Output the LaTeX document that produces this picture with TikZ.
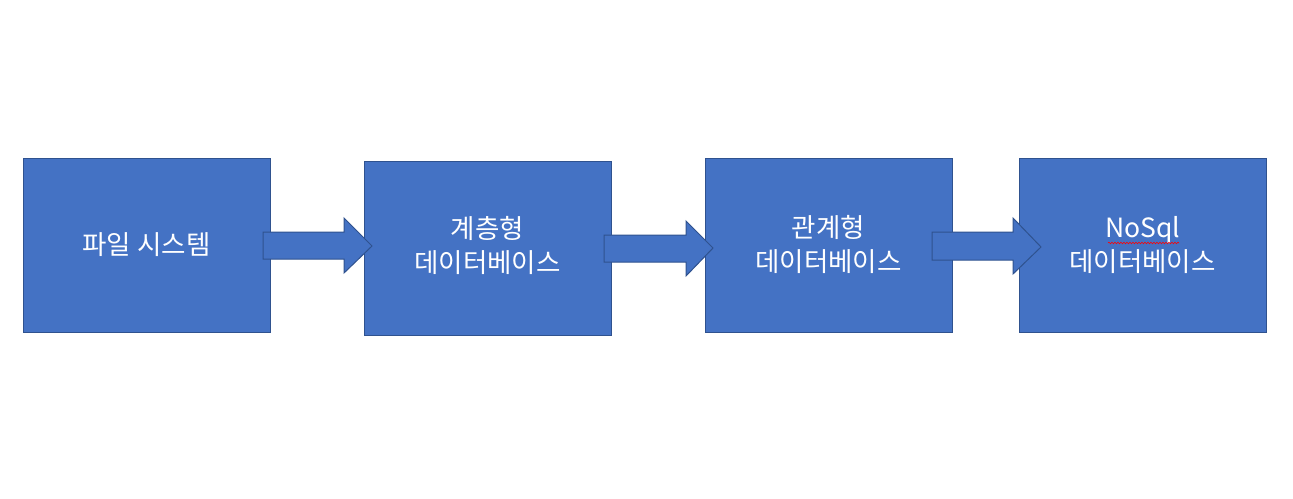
\documentclass[tikz,border=0pt]{standalone}
\usepackage{fontspec}
\newfontfamily\kr{Noto Sans CJK KR}
\usetikzlibrary{decorations.pathmorphing}
\definecolor{boxfill}{HTML}{4472C4}
\definecolor{boxline}{HTML}{2F528F}
\begin{document}
\begin{tikzpicture}[x=1pt,y=-1pt,
  stagebox/.style={draw=boxline,fill=boxfill,line width=1pt},
  lbl/.style={text=white,font=\kr\fontsize{26.5}{34}\selectfont,align=center,inner sep=0pt},
  flow/.style={draw=boxline,fill=boxfill,line width=1pt,line join=miter}]
\useasboundingbox (0,0) rectangle (1293,498);
\draw[stagebox] (23,158) rectangle (270,332) coordinate (b1);
\draw[stagebox] (364,161) rectangle (611,335) coordinate (b2);
\draw[stagebox] (705,158) rectangle (952,332) coordinate (b3);
\draw[stagebox] (1019,158) rectangle (1266,332) coordinate (b4);
\node[lbl] (t1) at (146.5,245) {파일 시스템};
\node[lbl] (t2) at (487.5,245) {계층형\\데이터베이스};
\node[lbl] (t3) at (828.5,244) {관계형\\데이터베이스};
\node[lbl] (t4) at (1142.5,245) {NoSql\\데이터베이스};
\draw[red,line width=0.6pt,decorate,decoration={snake,amplitude=0.8pt,segment length=3pt}] (1108,243) -- (1179,243);
% block arrows
\draw[flow] (263,232) -- (344,232) -- (344,218) -- (372,246) -- (344,273) -- (344,259) -- (263,259) -- cycle;
\draw[flow] (604,235) -- (686,235) -- (686,221) -- (713,248) -- (686,276) -- (686,262) -- (604,262) -- cycle;
\draw[flow] (932,232) -- (1013,232) -- (1013,218) -- (1041,247) -- (1013,274) -- (1013,260) -- (932,260) -- cycle;
\end{tikzpicture}
\end{document}
